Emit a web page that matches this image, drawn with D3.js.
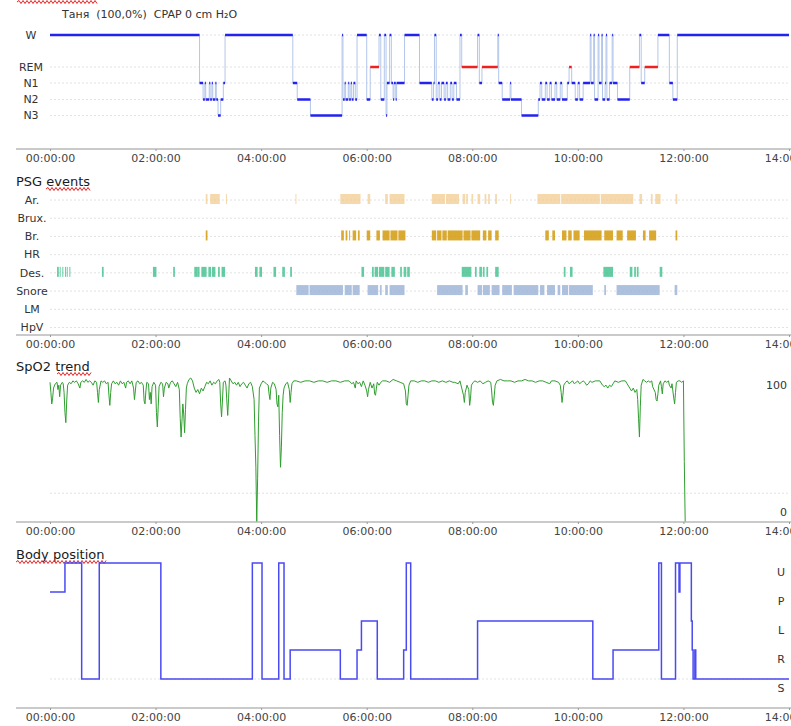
<!DOCTYPE html>
<html>
<head>
<meta charset="utf-8">
<script src="https://cdn.jsdelivr.net/npm/d3@7"></script>
<style>
  body { margin: 0; background: #fff; }
  svg text { font-family: "DejaVu Sans", Verdana, sans-serif; }
</style>
</head>
<body>
<div id="chart"></div>
<script>
// time is in minutes from recording start
const timeTicks = [0, 120, 240, 360, 480, 600, 720, 840];

const stages = ['W', 'REM', 'N1', 'N2', 'N3'];
const hypno = [
  [0, 'W'], [170, 'N1'], [174, 'N2'], [176, 'N1'], [177, 'N2'], [181, 'N1'], [182, 'N2'], [184, 'N1'],
  [185, 'N2'], [188, 'N1'], [189, 'N2'], [191, 'N3'], [194, 'N2'], [197, 'N1'], [199, 'W'],
  [276, 'N1'], [281, 'N2'], [296, 'N3'], [332, 'W'], [333, 'N2'], [335, 'N1'], [336, 'N2'], [339, 'N1'],
  [340, 'N2'], [342, 'N1'], [343, 'N2'], [345, 'N1'], [347, 'N2'], [349, 'W'],
  [360, 'N2'], [364, 'REM'], [374, 'W'], [376, 'N2'], [380, 'W'], [382, 'N3'], [383, 'N1'], [386, 'W'],
  [388, 'N1'], [390, 'N2'], [391, 'N1'], [393, 'N2'], [394, 'N1'], [403, 'W'],
  [420, 'N1'], [434, 'N2'], [436, 'N1'], [437, 'W'], [439, 'N2'], [441, 'N1'], [443, 'N2'], [445, 'N1'],
  [448, 'N2'], [450, 'N1'], [452, 'N2'], [455, 'N1'], [457, 'N2'], [459, 'N1'], [462, 'N2'], [466, 'W'],
  [468, 'REM'], [486, 'W'], [488, 'N1'], [491, 'REM'], [509, 'W'], [510, 'N1'], [514, 'N2'], [523, 'N1'],
  [524, 'N2'], [536, 'N3'], [555, 'N2'], [557, 'N1'], [559, 'N2'], [563, 'N1'], [565, 'N2'], [568, 'N1'],
  [570, 'N2'], [574, 'N1'], [576, 'N2'], [580, 'N1'], [582, 'N2'], [588, 'N1'], [590, 'REM'], [593, 'N1'],
  [597, 'N2'], [600, 'N1'], [602, 'N2'], [606, 'N1'], [614, 'W'], [615, 'N1'], [618, 'W'], [619, 'N2'],
  [623, 'W'], [624, 'N1'], [627, 'W'], [628, 'N2'], [631, 'N1'], [632, 'W'], [633, 'N2'], [636, 'N1'],
  [639, 'W'], [640, 'N1'], [645, 'N2'], [659, 'REM'], [670, 'W'], [672, 'N1'], [676, 'REM'], [691, 'W'],
  [704, 'N1'], [708, 'N2'], [713, 'W']
];

const eventRows = ['Ar.', 'Brux.', 'Br.', 'HR', 'Des.', 'Snore', 'LM', 'HpV'];
const arousals = [
  [177, 179], [182, 193], [200, 201], [279, 280], [330, 353], [361, 364], [381, 384], [386, 403],
  [434, 449], [450, 465], [469, 472], [473, 475], [479, 481], [486, 489], [494, 496], [498, 500],
  [506, 508], [523, 524], [554, 580], [581, 625], [626, 663], [670, 673], [683, 685], [688, 694], [711, 713]
];
const breathing = [
  [177, 179], [331, 334], [336, 338], [340, 341], [344, 348], [350, 352], [360, 364], [371, 375],
  [378, 386], [387, 395], [396, 404], [434, 439], [440, 445], [446, 451], [452, 469], [470, 478],
  [479, 489], [492, 496], [498, 502], [506, 510], [563, 567], [571, 574], [582, 587], [589, 593],
  [595, 602], [607, 627], [630, 640], [644, 651], [656, 666], [674, 677], [681, 689], [711, 713]
];
const desats = [
  [8, 10], [11, 12], [14, 15], [17, 18], [19, 20], [22, 23], [59, 61], [117, 121], [140, 142],
  [164, 168], [168, 170], [172, 178], [180, 183], [184, 188], [191, 193], [195, 199], [233, 236],
  [238, 241], [254, 257], [264, 267], [273, 275], [354, 357], [366, 368], [369, 373], [374, 380],
  [381, 386], [388, 392], [398, 400], [402, 405], [406, 409], [468, 479], [483, 485], [488, 491],
  [492, 494], [496, 498], [506, 510], [584, 586], [591, 594], [629, 640], [659, 662], [664, 666],
  [667, 669], [693, 696]
];
const snores = [
  [280, 294], [295, 333], [335, 343], [344, 352], [361, 373], [375, 377], [381, 384], [386, 403],
  [440, 469], [472, 475], [486, 491], [492, 500], [502, 511], [514, 525], [527, 555], [557, 562],
  [565, 574], [577, 580], [582, 589], [590, 617], [630, 632], [644, 693], [710, 713]
];

const spo2 = [
  [0, 97], [1, 90], [2, 82], [3, 86], [4, 93], [6, 96], [8, 97], [9, 92], [10, 95], [11, 87], [12, 95],
  [14, 97], [15, 96], [16, 90], [17, 76], [18, 69], [19, 84], [20, 95], [22, 97], [24, 96], [26, 98],
  [28, 97], [30, 98], [32, 96], [34, 93], [35, 97], [37, 98], [39, 97], [41, 99], [43, 97], [45, 98],
  [47, 97], [49, 95], [51, 98], [53, 97], [54, 90], [55, 83], [56, 92], [58, 98], [60, 97], [62, 98],
  [64, 96], [66, 97], [67, 88], [68, 81], [69, 90], [70, 96], [72, 98], [74, 96], [76, 97], [78, 95],
  [80, 98], [82, 96], [84, 97], [86, 93], [87, 97], [89, 98], [91, 96], [93, 98], [95, 93], [96, 85],
  [97, 91], [98, 97], [100, 98], [102, 96], [104, 97], [106, 95], [107, 84], [108, 82], [109, 91],
  [110, 97], [112, 96], [113, 85], [114, 90], [115, 82], [116, 94], [118, 97], [120, 95], [121, 76],
  [122, 66], [123, 80], [124, 94], [126, 97], [128, 96], [129, 87], [130, 93], [132, 97], [134, 96],
  [135, 93], [137, 97], [139, 98], [141, 96], [143, 94], [145, 97], [147, 92], [148, 72], [149, 59],
  [150, 70], [151, 82], [152, 75], [153, 62], [154, 78], [155, 93], [156, 96], [158, 99], [160, 100],
  [162, 98], [164, 93], [166, 90], [168, 92], [170, 89], [172, 93], [174, 91], [176, 94], [178, 97],
  [180, 96], [182, 98], [184, 95], [186, 97], [188, 96], [190, 98], [192, 99], [193, 97], [194, 82],
  [195, 73], [196, 84], [197, 97], [199, 98], [200, 95], [201, 84], [202, 74], [203, 86], [204, 100],
  [206, 98], [208, 96], [210, 97], [212, 95], [214, 97], [216, 94], [218, 96], [220, 97], [222, 95],
  [224, 93], [226, 96], [228, 97], [230, 94], [232, 85], [233, 60], [234, 38], [235, 0], [236, 30],
  [237, 70], [238, 93], [240, 96], [242, 98], [244, 97], [246, 96], [248, 95], [249, 89], [250, 85],
  [251, 93], [253, 97], [255, 96], [257, 92], [258, 82], [259, 80], [260, 88], [261, 60], [262, 38],
  [263, 52], [264, 76], [265, 88], [266, 93], [268, 96], [270, 97], [272, 92], [273, 83], [274, 90],
  [275, 96], [277, 98], [280, 98], [285, 97], [290, 98], [295, 98], [300, 97], [305, 98], [310, 98],
  [315, 97], [320, 98], [325, 98], [330, 97], [335, 98], [340, 98], [343, 96], [345, 97], [347, 93],
  [348, 98], [350, 96], [352, 97], [354, 94], [356, 98], [358, 95], [360, 91], [361, 87], [362, 92],
  [364, 97], [366, 93], [368, 96], [369, 89], [370, 88], [371, 93], [372, 97], [374, 95], [376, 97],
  [378, 98], [382, 98], [386, 97], [390, 99], [394, 98], [398, 97], [402, 96], [404, 91], [405, 82],
  [406, 81], [407, 88], [408, 95], [410, 98], [414, 98], [418, 97], [422, 98], [426, 98], [430, 97],
  [434, 98], [438, 98], [442, 97], [446, 98], [450, 97], [454, 98], [458, 97], [460, 97], [464, 96],
  [466, 98], [468, 93], [470, 88], [471, 83], [472, 90], [474, 95], [476, 92], [477, 81], [478, 86],
  [479, 95], [481, 97], [483, 98], [486, 97], [489, 98], [492, 96], [495, 97], [498, 98], [501, 97],
  [502, 91], [503, 83], [504, 81], [505, 88], [506, 95], [508, 98], [512, 99], [516, 98], [520, 98],
  [524, 98], [528, 97], [532, 98], [536, 98], [540, 99], [544, 98], [548, 98], [552, 97], [556, 98],
  [560, 98], [564, 97], [568, 96], [570, 98], [574, 98], [578, 97], [580, 95], [581, 90], [582, 83],
  [583, 88], [584, 95], [586, 97], [588, 98], [590, 96], [592, 97], [594, 98], [596, 96], [598, 97],
  [600, 98], [602, 96], [604, 97], [606, 98], [608, 97], [610, 95], [612, 96], [614, 98], [616, 97],
  [620, 98], [625, 98], [628, 95], [630, 94], [632, 95], [634, 93], [636, 95], [638, 94], [640, 96],
  [642, 98], [646, 97], [650, 98], [654, 98], [656, 96], [659, 93], [661, 91], [663, 93], [665, 90],
  [667, 92], [668, 85], [669, 72], [670, 59], [671, 80], [672, 95], [674, 99], [676, 98], [678, 97],
  [680, 98], [682, 97], [684, 98], [685, 94], [688, 90], [689, 85], [690, 84], [691, 89], [692, 95],
  [694, 98], [695, 94], [696, 89], [697, 96], [699, 98], [701, 97], [703, 98], [704, 95], [706, 93],
  [707, 96], [708, 91], [709, 86], [710, 82], [711, 90], [712, 97], [714, 98], [716, 98], [718, 97],
  [720, 98], [721, 42], [722, 0]
];
const spo2Ticks = [0, 100];

const positions = ['U', 'P', 'L', 'R', 'S'];
const bodyPos = [
  [0, 'P'], [17, 'U'], [36, 'S'], [56, 'U'], [126, 'S'], [230, 'U'], [241, 'S'], [260, 'U'], [266, 'S'],
  [273, 'R'], [330, 'S'], [349, 'R'], [354, 'L'], [372, 'S'], [402, 'R'], [405, 'U'], [410, 'S'],
  [486, 'L'], [617, 'S'], [640, 'R'], [692, 'U'], [695, 'S'], [711, 'U'], [715, 'P'], [716, 'U'],
  [729, 'L'], [730, 'R'], [731, 'S'], [733, 'R'], [734, 'S']
];

const W = 791;
const H = 726;
const fontFamily = '"DejaVu Sans", Verdana, sans-serif';

const svg = d3.select('#chart')
  .append('svg')
  .attr('width', W)
  .attr('height', H);

const x = d3.scaleLinear().domain([0, 840]).range([50, 789]);

function fmtTime(m) {
  return `${String(m / 60).padStart(2, '0')}:00:00`;
}

function timeAxis(yLine) {
  svg.append('line')
    .attr('x1', 16).attr('x2', W)
    .attr('y1', yLine).attr('y2', yLine)
    .attr('stroke', '#b9b9b9')
    .attr('stroke-width', 1.5);
  const ax = svg.append('g')
    .attr('transform', `translate(0,${yLine})`)
    .call(d3.axisBottom(x).tickValues(timeTicks).tickSize(2).tickPadding(3).tickFormat(fmtTime));
  ax.select('.domain').remove();
  ax.attr('font-family', fontFamily).attr('font-size', 11);
  ax.selectAll('line').attr('stroke', '#999');
  ax.selectAll('text').attr('fill', '#444');
}

function dotted(y1) {
  svg.append('line')
    .attr('x1', 50).attr('x2', 789)
    .attr('y1', y1).attr('y2', y1)
    .attr('stroke', '#e2e2e2')
    .attr('stroke-dasharray', '2,2');
}

// red spell-check squiggle
function squiggle(x1, x2, y0) {
  let d = `M${x1},${y0}`;
  for (let xx = x1, k = 0; xx < x2; xx += 2, k++) {
    d += ` L${xx + 2},${y0 + (k % 2 === 0 ? -1.5 : 1.5)}`;
  }
  svg.append('path').attr('d', d).attr('fill', 'none').attr('stroke', '#e32020').attr('stroke-width', 1);
}

function title(txt, y0) {
  svg.append('text')
    .attr('x', 16).attr('y', y0)
    .attr('font-size', 13)
    .attr('fill', '#1a1a1a')
    .text(txt);
}

// ---------- hypnogram ----------
const yStage = d3.scaleOrdinal().domain(stages).range([35, 67, 83, 99.5, 115.5]);

squiggle(17, 97, 2);
svg.append('text')
  .attr('x', 62).attr('y', 18)
  .attr('font-size', 11)
  .attr('fill', '#333')
  .style('white-space', 'pre')
  .text('Таня  (100,0%)  CPAP 0 cm H₂O');

stages.forEach(s => dotted(yStage(s)));

svg.selectAll('.stage-label')
  .data(stages)
  .enter()
  .append('text')
  .attr('class', 'stage-label')
  .attr('x', 31)
  .attr('y', d => yStage(d))
  .attr('dy', '0.35em')
  .attr('text-anchor', 'middle')
  .attr('font-size', 11)
  .attr('fill', '#333')
  .text(d => d);

const hypSegs = hypno.map((d, i) => ({
  start: d[0],
  end: i < hypno.length - 1 ? hypno[i + 1][0] : 840,
  stage: d[1],
}));

const stepPts = hypno.concat([[840, hypno[hypno.length - 1][1]]]);
svg.append('path')
  .datum(stepPts)
  .attr('fill', 'none')
  .attr('stroke', '#b3c6ea')
  .attr('stroke-width', 1)
  .attr('d', d3.line().curve(d3.curveStepAfter).x(d => x(d[0])).y(d => yStage(d[1])));

svg.selectAll('.hseg')
  .data(hypSegs)
  .enter()
  .append('line')
  .attr('class', 'hseg')
  .attr('x1', d => x(d.start))
  .attr('x2', d => Math.max(x(d.end), x(d.start) + 1))
  .attr('y1', d => yStage(d.stage))
  .attr('y2', d => yStage(d.stage))
  .attr('stroke', d => (d.stage === 'REM' ? '#ee2020' : '#2323ee'))
  .attr('stroke-width', 2.5);

timeAxis(149);

// ---------- PSG events ----------
title('PSG events', 186);
squiggle(46, 90, 189);

const yRow = d3.scalePoint().domain(eventRows).range([200, 327.5]);
eventRows.forEach(r => dotted(yRow(r)));

svg.selectAll('.row-label')
  .data(eventRows)
  .enter()
  .append('text')
  .attr('class', 'row-label')
  .attr('x', 32)
  .attr('y', d => yRow(d))
  .attr('dy', '0.35em')
  .attr('text-anchor', 'middle')
  .attr('font-size', 11)
  .attr('fill', '#333')
  .text(d => d);

const eventSeries = [
  {row: 'Ar.', data: arousals, color: '#f1c98a', op: 0.7},
  {row: 'Br.', data: breathing, color: '#d49a0c', op: 0.85},
  {row: 'Des.', data: desats, color: '#3dbf8c', op: 0.8},
  {row: 'Snore', data: snores, color: '#98b0d6', op: 0.8},
];

eventSeries.forEach(s => {
  svg.append('g')
    .selectAll('rect')
    .data(s.data)
    .enter()
    .append('rect')
    .attr('x', d => x(d[0]))
    .attr('width', d => Math.max(1, x(d[1]) - x(d[0])))
    .attr('y', yRow(s.row) - 6)
    .attr('height', 10)
    .attr('fill', s.color)
    .attr('fill-opacity', s.op);
});

timeAxis(335);

// ---------- SpO2 ----------
title('SpO2 trend', 371);
squiggle(57, 90, 374);

const ySpo2 = d3.scaleLinear().domain([0, 100]).range([522, 378]);
dotted(ySpo2(20));

svg.append('path')
  .datum(spo2)
  .attr('fill', 'none')
  .attr('stroke', '#2f9e2f')
  .attr('stroke-width', 1)
  .attr('d', d3.line().x(d => x(d[0])).y(d => ySpo2(d[1])));

svg.selectAll('.spo2-label')
  .data(spo2Ticks)
  .enter()
  .append('text')
  .attr('class', 'spo2-label')
  .attr('x', 787)
  .attr('y', d => ySpo2(d) + (d === 100 ? 7 : -10))
  .attr('dy', '0.35em')
  .attr('text-anchor', 'end')
  .attr('font-size', 11)
  .attr('fill', '#333')
  .text(d => d);

timeAxis(522);

// ---------- Body position ----------
title('Body position', 559);
squiggle(16, 105, 562);

const yPos = d3.scalePoint().domain(positions).range([563, 679]);
dotted(yPos('S'));

svg.selectAll('.pos-label')
  .data(positions)
  .enter()
  .append('text')
  .attr('class', 'pos-label')
  .attr('x', 781)
  .attr('y', d => yPos(d) + 9)
  .attr('dy', '0.35em')
  .attr('text-anchor', 'middle')
  .attr('font-size', 11)
  .attr('fill', '#333')
  .text(d => d);

svg.append('path')
  .datum(bodyPos.concat([[840, 'S']]))
  .attr('fill', 'none')
  .attr('stroke', '#4a4af2')
  .attr('stroke-width', 1.5)
  .attr('d', d3.line().curve(d3.curveStepAfter).x(d => x(d[0])).y(d => yPos(d[1])));

timeAxis(708);
</script>
</body>
</html>
